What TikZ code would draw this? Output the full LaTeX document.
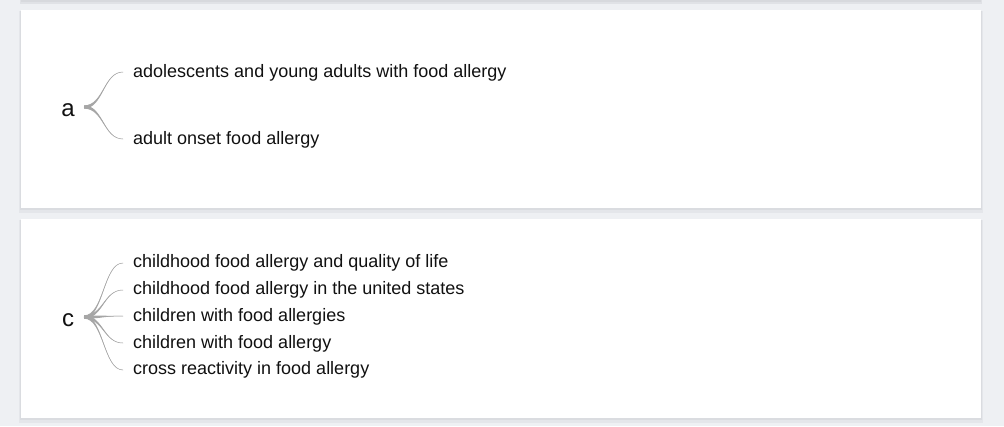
\documentclass[tikz,border=0pt]{standalone}
\usepackage{fontspec}
\setmainfont{Liberation Sans}
\usetikzlibrary{calc}
\definecolor{bg}{HTML}{EEF0F3}
\definecolor{shadowc}{HTML}{D4D6DA}
\definecolor{txt}{HTML}{111111}
\definecolor{linkc}{HTML}{A6A6A6}
\newcommand\taperlink[2]{%
  \fill[linkc] let \p1=(#1), \p2=(#2), \p3=($(#1)!0.5!(#2)$) in
    (\x1,\y1+1.6pt) .. controls (\x3,\y1+1.6pt) and (\x3,\y2) .. (\x2,\y2)
    .. controls (\x3,\y2) and (\x3,\y1-1.6pt) .. (\x1,\y1-1.6pt) -- cycle;
  \draw[linkc, line width=0.5pt] let \p1=(#1), \p2=(#2), \p3=($(#1)!0.5!(#2)$) in
    (#1) .. controls (\x3,\y1) and (\x3,\y2) .. (#2);
}
\begin{document}
\begin{tikzpicture}[x=1pt,y=-1pt,
  leaf/.style={anchor=base west, font=\fontsize{18}{20}\selectfont, text=txt, inner sep=0pt},
  rootlbl/.style={font=\fontsize{24}{26}\selectfont, text=txt, inner sep=0pt}]
\fill[bg] (0,0) rectangle (1004,426);
\useasboundingbox (0,0) rectangle (1004,426);
% previous card shadow at top
\fill[shadowc, opacity=.5] (20,0) rectangle (982,4);
\fill[shadowc, opacity=.7] (21,0) rectangle (981,2);
% card 1
\fill[shadowc, opacity=.35] (19,11) rectangle (983,213);
\fill[shadowc, opacity=.6] (20,11) rectangle (982,210);
\fill[white] (21,10) rectangle (981,208);
% card 2
\fill[shadowc, opacity=.35] (19,220) rectangle (983,423);
\fill[shadowc, opacity=.6] (20,220) rectangle (982,420);
\fill[white] (21,219) rectangle (981,418);

% tree a
\node[rootlbl] (a) at (68,110) {a};
\coordinate (ra) at (84,107);
\coordinate (a1) at (123,72);
\coordinate (a2) at (123,139);
\node[leaf] (la1) at (133,77) {adolescents and young adults with food allergy};
\node[leaf] (la2) at (133,144) {adult onset food allergy};
\taperlink{ra}{a1}
\taperlink{ra}{a2}

% tree c
\node[rootlbl] (c) at (68,320) {c};
\coordinate (rc) at (84,317);
\coordinate (c1) at (123,263);
\coordinate (c2) at (123,290);
\coordinate (c3) at (123,316);
\coordinate (c4) at (123,343);
\coordinate (c5) at (123,370);
\node[leaf] (lc1) at (133,267) {childhood food allergy and quality of life};
\node[leaf] (lc2) at (133,294) {childhood food allergy in the united states};
\node[leaf] (lc3) at (133,321) {children with food allergies};
\node[leaf] (lc4) at (133,348) {children with food allergy};
\node[leaf] (lc5) at (133,374) {cross reactivity in food allergy};
\taperlink{rc}{c1}
\taperlink{rc}{c2}
\taperlink{rc}{c3}
\taperlink{rc}{c4}
\taperlink{rc}{c5}
\end{tikzpicture}
\end{document}
